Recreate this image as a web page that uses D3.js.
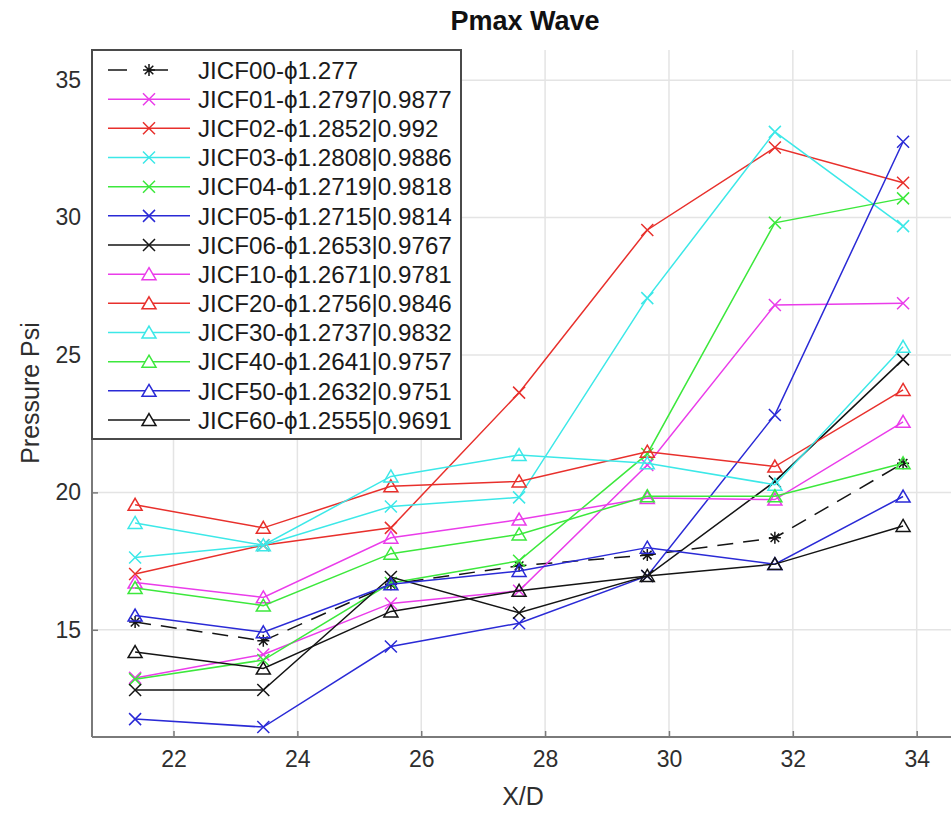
<!DOCTYPE html>
<html>
<head>
<meta charset="utf-8">
<script src="https://cdn.jsdelivr.net/npm/d3@7"></script>
<style>
  html, body { margin: 0; padding: 0; background: #fff; }
  svg { display: block; }
  text { font-family: "Liberation Sans", Arial, sans-serif; }
</style>
</head>
<body>
<svg id="chart" width="951" height="813"></svg>
<script>
// ---------------- DATA ----------------
const xValues = [21.38, 23.45, 25.51, 27.58, 29.65, 31.71, 33.78];
const xTicks = [22, 24, 26, 28, 30, 32, 34];
const yTicks = [15, 20, 25, 30, 35];

const seriesNames = [
  "JICF00-\u03D51.277",
  "JICF01-\u03D51.2797|0.9877",
  "JICF02-\u03D51.2852|0.992",
  "JICF03-\u03D51.2808|0.9886",
  "JICF04-\u03D51.2719|0.9818",
  "JICF05-\u03D51.2715|0.9814",
  "JICF06-\u03D51.2653|0.9767",
  "JICF10-\u03D51.2671|0.9781",
  "JICF20-\u03D51.2756|0.9846",
  "JICF30-\u03D51.2737|0.9832",
  "JICF40-\u03D51.2641|0.9757",
  "JICF50-\u03D51.2632|0.9751",
  "JICF60-\u03D51.2555|0.9691"
];

const jicf00 = [15.28, 14.60, 16.66, 17.33, 17.72, 18.35, 21.06];
const jicf01 = [13.25, 14.10, 15.96, 16.42, 21.00, 26.82, 26.88];
const jicf02 = [17.03, 18.08, 18.71, 23.63, 29.55, 32.55, 31.27];
const jicf03 = [17.63, 18.08, 19.49, 19.82, 27.07, 33.12, 29.69];
const jicf04 = [13.20, 13.90, 16.70, 17.51, 21.40, 29.81, 30.70];
const jicf05 = [11.75, 11.46, 14.39, 15.24, 16.96, 22.82, 32.76];
const jicf06 = [12.81, 12.81, 16.92, 15.62, 16.96, 20.40, 24.84];
const jicf10 = [16.72, 16.18, 18.35, 19.01, 19.80, 19.74, 22.57];
const jicf20 = [19.55, 18.71, 20.22, 20.40, 21.48, 20.94, 23.73];
const jicf30 = [18.89, 18.08, 20.58, 21.36, 21.06, 20.28, 25.30];
const jicf40 = [16.52, 15.88, 17.77, 18.47, 19.86, 19.86, 21.06];
const jicf50 = [15.52, 14.91, 16.66, 17.14, 17.99, 17.39, 19.85];
const jicf60 = [14.19, 13.59, 15.67, 16.42, 16.96, 17.39, 18.78];

const seriesValues = [jicf00, jicf01, jicf02, jicf03, jicf04, jicf05, jicf06,
                      jicf10, jicf20, jicf30, jicf40, jicf50, jicf60];

// ---------------- STYLES ----------------
const C = { m: "#ea3cea", r: "#e8302c", c: "#3ce8e8", g: "#3ce83c", b: "#2a2ad6", k: "#141414" };
const seriesColors = [C.k, C.m, C.r, C.c, C.g, C.b, C.k, C.m, C.r, C.c, C.g, C.b, C.k];
const seriesMarkers = ["*", "x", "x", "x", "x", "x", "x", "^", "^", "^", "^", "^", "^"];
const seriesDash = ["16,10", null, null, null, null, null, null, null, null, null, null, null, null];

// ---------------- LAYOUT ----------------
const svg = d3.select("#chart");
const pLeft = 92, pRight = 951, pTop = 50, pBottom = 737;

const x = d3.scaleLinear().domain([22, 34]).range([173.5, 916.7]);
const y = d3.scaleLinear().domain([15, 35]).range([629.8, 80.2]);

const axisColor = "#7a7a7a";
const textColor = "#2e2e2e";

// grid
const grid = svg.append("g");
grid.selectAll("line.gx").data(xTicks).enter().append("line")
  .attr("x1", d => x(d)).attr("x2", d => x(d))
  .attr("y1", pTop).attr("y2", pBottom)
  .attr("stroke", "#e4e4e4").attr("stroke-width", 1.5);
grid.selectAll("line.gy").data(yTicks).enter().append("line")
  .attr("x1", pLeft).attr("x2", pRight)
  .attr("y1", d => y(d)).attr("y2", d => y(d))
  .attr("stroke", "#e4e4e4").attr("stroke-width", 1.5);

// axes (using d3 axis generators, inward ticks)
const xAxis = d3.axisBottom(x).tickValues(xTicks).tickSize(-6).tickPadding(14).tickFormat(d3.format("d"));
const yAxis = d3.axisLeft(y).tickValues(yTicks).tickSize(-6).tickPadding(11).tickFormat(d3.format("d"));

const gx = svg.append("g").attr("transform", `translate(0,${pBottom})`).call(xAxis);
const gy = svg.append("g").attr("transform", `translate(${pLeft},0)`).call(yAxis);
[gx, gy].forEach(g => {
  g.select(".domain").remove();
  g.selectAll(".tick line").attr("stroke", axisColor).attr("stroke-width", 1.5);
  g.selectAll(".tick text").attr("fill", textColor)
    .style("font-family", '"Liberation Sans", Arial, sans-serif').style("font-size", "23px");
});
svg.append("line").attr("x1", pLeft).attr("x2", pRight).attr("y1", pBottom).attr("y2", pBottom)
  .attr("stroke", axisColor).attr("stroke-width", 2);
svg.append("line").attr("x1", pLeft).attr("x2", pLeft).attr("y1", pTop).attr("y2", pBottom)
  .attr("stroke", axisColor).attr("stroke-width", 2);

// markers
function markerPath(type) {
  if (type === "x") return "M-6,-6L6,6M-6,6L6,-6";
  if (type === "^") return "M0,-6.5L7,5.5L-7,5.5Z";
  if (type === "*") return "M-6,0L6,0M0,-6L0,6M-4.3,-4.3L4.3,4.3M-4.3,4.3L4.3,-4.3";
  return "";
}

const line = d3.line().x((d, i) => x(xValues[i])).y(d => y(d));

const plot = svg.append("g");
seriesValues.forEach((vals, si) => {
  const g = plot.append("g");
  g.append("path").attr("d", line(vals)).attr("fill", "none")
    .attr("stroke", seriesColors[si]).attr("stroke-width", 1.5)
    .attr("stroke-dasharray", seriesDash[si]);
  g.selectAll("path.m").data(vals).enter().append("path")
    .attr("class", "m")
    .attr("d", markerPath(seriesMarkers[si]))
    .attr("transform", (d, i) => `translate(${x(xValues[i])},${y(d)})`)
    .attr("fill", "none").attr("stroke", seriesColors[si]).attr("stroke-width", 1.5);
});

// legend
const lg = svg.append("g");
lg.append("rect").attr("x", 92).attr("y", 50).attr("width", 369).attr("height", 389)
  .attr("fill", "#fff").attr("stroke", "#4a4a4a").attr("stroke-width", 2);
const rowY = i => 70 + i * 29.17;
seriesNames.forEach((name, si) => {
  const cy = rowY(si);
  lg.append("line").attr("x1", 108).attr("x2", 190).attr("y1", cy).attr("y2", cy)
    .attr("stroke", seriesColors[si]).attr("stroke-width", 1.5)
    .attr("stroke-dasharray", seriesDash[si] ? "19,22" : null);
  lg.append("path").attr("d", markerPath(seriesMarkers[si]))
    .attr("transform", `translate(149,${cy})`)
    .attr("fill", seriesMarkers[si] === "^" ? "#fff" : "none")
    .attr("stroke", seriesColors[si]).attr("stroke-width", 1.5);
  lg.append("text").attr("x", 198).attr("y", cy + 8.7)
    .attr("fill", "#1a1a1a").style("font-size", "24.2px").text(name);
});

// labels
svg.append("text").attr("x", 525).attr("y", 30).attr("text-anchor", "middle")
  .attr("fill", "#111").style("font-size", "27px").style("font-weight", "bold").text("Pmax Wave");
svg.append("text").attr("x", 523).attr("y", 805).attr("text-anchor", "middle")
  .attr("fill", textColor).style("font-size", "25px").text("X/D");
svg.append("text").attr("transform", "translate(39,393) rotate(-90)").attr("text-anchor", "middle")
  .attr("fill", textColor).style("font-size", "25px").text("Pressure Psi");
</script>
</body>
</html>
